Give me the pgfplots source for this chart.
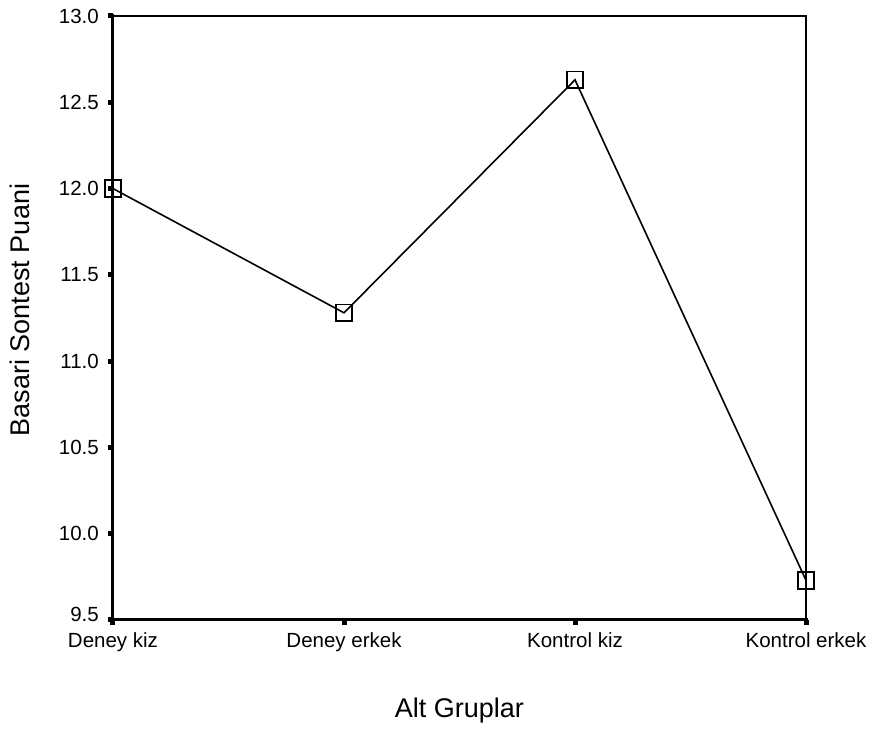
\documentclass[border=0pt]{standalone}
\usepackage{fontspec}
\setmainfont{Liberation Sans}
\usepackage{pgfplots}
\pgfplotsset{compat=1.18}
\begin{document}
\begin{tikzpicture}
\begin{axis}[
  name=ax,
  scale only axis,
  width=693pt, height=604pt,
  xmin=0, xmax=3, ymin=9.5, ymax=13.0,
  xtick={0,1,2,3},
  xticklabels={Deney kiz, Deney erkek, Kontrol kiz, Kontrol erkek},
  ytick={9.5,10.0,10.5,11.0,11.5,12.0,12.5,13.0},
  yticklabels={\raisebox{11pt}{9.5},10.0,10.5,11.0,11.5,12.0,12.5,13.0},
  yticklabel style={inner sep=0pt, xshift=-9pt},
  tick align=outside,
  xtick pos=bottom, ytick pos=left,
  major tick length=5pt,
  tick style={line width=5pt, black},
  axis line style={line width=1.5pt},
  ticklabel style={font=\fontsize{20.5}{24}\selectfont},
  xticklabel style={inner sep=0pt, yshift=-7pt},
  every axis y label/.style={at={(axis description cs:0,0.5)}, xshift=-93pt, yshift=8pt, rotate=90, anchor=center, font=\fontsize{27}{32}\selectfont},
  every axis x label/.style={at={(axis description cs:0.5,0)}, yshift=-91pt, anchor=center, font=\fontsize{27}{32}\selectfont},
  xlabel={Alt Gruplar},
  ylabel={Basari Sontest Puani},
  clip=false,
]
\addplot[black, line width=1.6pt, mark=square, mark size=8.3pt, mark options={line width=1.9pt}]
  coordinates {(0,12.0) (1,11.28) (2,12.63) (3,9.73)};
\draw[line width=3pt, line cap=rect] (rel axis cs:0,1) -- (rel axis cs:0,0) -- (rel axis cs:1,0);
\end{axis}
\pgfresetboundingbox
\path[use as bounding box] ([xshift=-113pt,yshift=-109pt]ax.south west) rectangle ([xshift=68pt,yshift=16pt]ax.north east);
\end{tikzpicture}
\end{document}
